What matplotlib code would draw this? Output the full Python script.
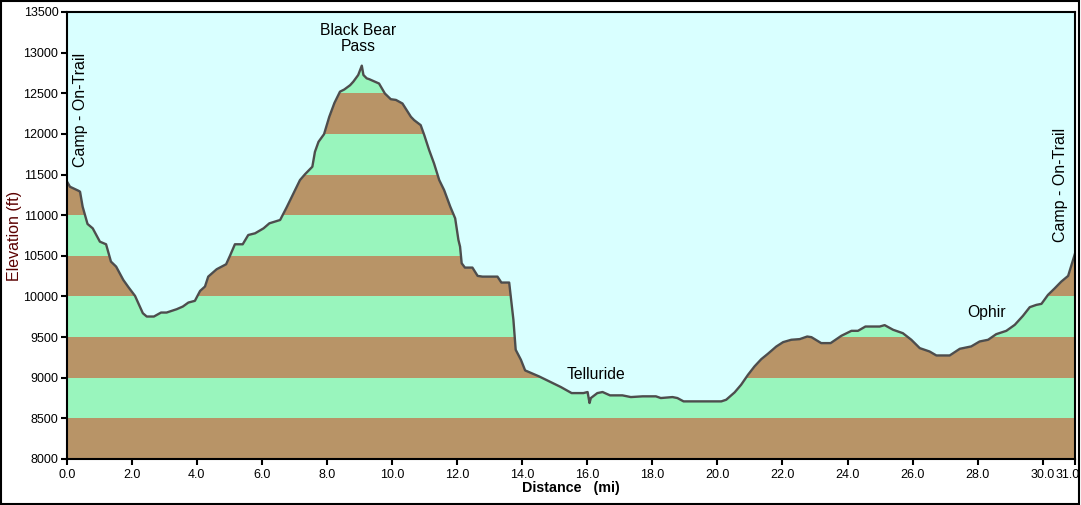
import matplotlib
matplotlib.use("Agg")
import matplotlib.pyplot as plt
from matplotlib.patches import Rectangle
from matplotlib.transforms import ScaledTranslation

# ---- data ----
distance_mi = [0.0, 0.10, 0.36, 0.41, 0.49, 0.64, 0.80, 1.02, 1.21, 1.36, 1.52, 1.74, 1.90, 2.10,
               2.34, 2.46, 2.68, 2.90, 3.07, 3.38, 3.57, 3.74, 3.94, 4.10, 4.25, 4.35, 4.61, 4.90,
               5.02, 5.17, 5.41, 5.58, 5.79, 6.05, 6.23, 6.56, 6.76, 6.97, 7.17, 7.33, 7.55, 7.63,
               7.74, 7.91, 8.07, 8.23, 8.40, 8.53, 8.71, 8.81, 8.96, 9.07, 9.12, 9.22, 9.30, 9.60,
               9.78, 9.96, 10.12, 10.32, 10.58, 10.68, 10.88, 10.99, 11.14, 11.29, 11.45, 11.60,
               11.79, 11.94, 12.04, 12.09, 12.14, 12.24, 12.47, 12.63, 12.78, 13.24, 13.36, 13.60,
               13.65, 13.73, 13.80, 13.96, 14.09, 14.52, 15.19, 15.52, 15.88, 16.01, 16.07, 16.11,
               16.31, 16.47, 16.70, 17.08, 17.34, 17.70, 18.11, 18.26, 18.62, 18.77, 18.96, 20.12,
               20.27, 20.53, 20.73, 20.94, 21.14, 21.35, 21.55, 21.81, 22.02, 22.27, 22.53, 22.76,
               22.89, 23.19, 23.48, 23.81, 24.12, 24.32, 24.55, 24.99, 25.14, 25.40, 25.70, 25.96,
               26.22, 26.52, 26.73, 27.14, 27.45, 27.80, 28.06, 28.32, 28.57, 28.88, 29.14, 29.39,
               29.60, 29.80, 29.96, 30.16, 30.37, 30.57, 30.78, 30.98, 31.00]
elevation_ft = [11420, 11350, 11301, 11289, 11104, 10892, 10838, 10674, 10642, 10429, 10367, 10203,
                10113, 10007, 9794, 9753, 9753, 9802, 9802, 9843, 9876, 9925, 9946, 10068, 10122,
                10244, 10335, 10396, 10502, 10642, 10642, 10756, 10777, 10838, 10900, 10941, 11096,
                11268, 11432, 11506, 11596, 11780, 11903, 11997, 12210, 12382, 12520, 12546, 12599,
                12643, 12725, 12840, 12725, 12684, 12673, 12620, 12497, 12427, 12418, 12374, 12210,
                12169, 12108, 11985, 11801, 11637, 11432, 11309, 11104, 10961, 10695, 10613, 10408,
                10355, 10355, 10253, 10244, 10244, 10171, 10171, 9999, 9712, 9344, 9221, 9090,
                9016, 8885, 8811, 8811, 8824, 8689, 8750, 8811, 8824, 8783, 8783, 8762, 8771, 8771,
                8750, 8762, 8750, 8709, 8709, 8729, 8820, 8914, 9036, 9139, 9229, 9294, 9384, 9438,
                9467, 9475, 9507, 9499, 9426, 9426, 9516, 9577, 9577, 9630, 9630, 9647, 9590, 9548,
                9467, 9364, 9323, 9274, 9274, 9356, 9385, 9446, 9467, 9536, 9577, 9651, 9761, 9868,
                9896, 9909, 10019, 10101, 10183, 10253, 10511, 10540]

waypoint_names = ["Black Bear\nPass", "Telluride", "Ophir"]
waypoint_x = [8.95, 16.26, 28.27]
waypoint_y = [13174, 9035, 9798]

camp_name = "Camp - On-Trail"
camp_x = [0.41, 30.55]
camp_y = [12295, 11372]

x_ticks = [0, 2, 4, 6, 8, 10, 12, 14, 16, 18, 20, 22, 24, 26, 28, 30, 31]
y_ticks = list(range(8000, 13501, 500))

SKY = "#D9FFFF"
BROWN = "#B89467"
GREEN = "#99F5BD"

plt.rcParams['font.family'] = ['Liberation Sans', 'DejaVu Sans']

fig = plt.figure(figsize=(10.81, 5.05), dpi=100)
fig.patch.set_facecolor("white")
ax = fig.add_axes([66.7 / 1081, 46 / 505, (1075.3 - 66.7) / 1081, 447 / 505])

ymin, ymax = 8000, 13500
xmax = 31.0
# elevation bands
for i, lo in enumerate(range(8000, 13500, 500)):
    ax.axhspan(lo, lo + 500, color=BROWN if i % 2 == 0 else GREEN, lw=0, zorder=1)
# sky above the profile
ax.fill_between(distance_mi, elevation_ft, ymax, color=SKY, lw=0, zorder=2)
ax.plot(distance_mi, elevation_ft, color="#4D4D4D", lw=1.7, zorder=3, solid_joinstyle="round")

ax.set_xlim(0, xmax)
ax.set_ylim(ymin, ymax)
ax.set_xticks(x_ticks)
ax.set_xticklabels([f"{v:.1f}" for v in x_ticks])
ax.set_yticks(y_ticks)
ax.set_yticklabels([str(v) for v in y_ticks])
ax.tick_params(axis="both", direction="out", length=4, width=1.5, labelsize=9,
               colors="black", pad=2)
ax.tick_params(axis="x", pad=3)
# last x label shifted left so it fits inside the border (as in the reference)
last = ax.get_xticklabels()[-1]
last.set_transform(last.get_transform() + ScaledTranslation(-8 / 100, 0, fig.dpi_scale_trans))

for s in ax.spines.values():
    s.set_linewidth(1.5)
    s.set_color("black")
    s.set_zorder(5)

ax.set_xlabel("Distance   (mi)", fontsize=10.3, fontweight="bold", labelpad=0)
ax.set_ylabel("Elevation (ft)", fontsize=11.5, color="#5A0000", labelpad=1)

for name, xv, yv in zip(waypoint_names, waypoint_x, waypoint_y):
    ax.text(xv, yv, name, ha="center", va="center", fontsize=11.3, zorder=6,
            linespacing=1.1)
for xv, yv in zip(camp_x, camp_y):
    ax.text(xv, yv, camp_name, ha="center", va="center", rotation=90,
            fontsize=11.5, zorder=6)

# outer border
fig.patches.append(Rectangle((0.0005, 0.001), 0.998, 0.997, transform=fig.transFigure,
                             fill=False, edgecolor="black", lw=1.5))

fig.savefig("out.png", dpi=100)
